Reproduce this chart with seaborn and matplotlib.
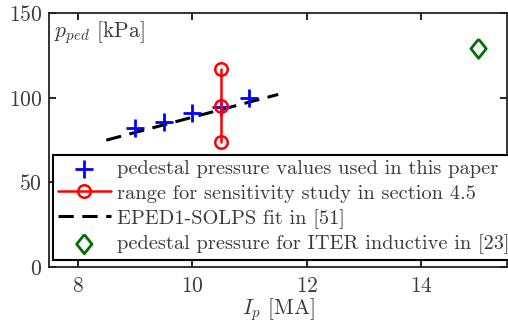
import matplotlib
matplotlib.use("Agg")
import matplotlib.pyplot as plt
import seaborn as sns

# data
ip_used = [9.0, 9.5, 10.0, 10.5, 11.0]
p_used = [82, 86, 91, 94.5, 100]
ip_range = [10.5, 10.5, 10.5]
p_range = [74, 95, 117]
ip_fit = [8.5, 11.5]
p_fit = [75, 102]
ip_iter = [15.0]
p_iter = [129]

sns.set_theme(style="ticks")
plt.rcParams["font.family"] = ["serif"]
plt.rcParams["font.serif"] = ["cmr10", "DejaVu Serif"]
plt.rcParams["mathtext.fontset"] = "cm"
plt.rcParams["axes.formatter.use_mathtext"] = True
plt.rcParams["axes.unicode_minus"] = False

fig = plt.figure(figsize=(5.08, 3.29), dpi=100)
ax = fig.add_axes([0.0965, 0.188, 0.902, 0.772])

grey = "#3a3a3a"
diamond = [(0, 1), (0.8, 0), (0, -1), (-0.8, 0), (0, 1)]

sns.scatterplot(x=ip_used, y=p_used, ax=ax, marker="+", s=180, color="#0000ff",
                linewidth=2, label="pedestal pressure values used in this paper", zorder=3)
sns.lineplot(x=ip_range, y=p_range, ax=ax, color="#ff0000", marker="o", markersize=9,
             markerfacecolor="none", markeredgecolor="#ff0000", markeredgewidth=1.8,
             linewidth=1.8, estimator=None, sort=False,
             label="range for sensitivity study in section 4.5", zorder=4)
sns.lineplot(x=ip_fit, y=p_fit, ax=ax, color="black", linewidth=2.2, dashes=False,
             estimator=None, label="EPED1-SOLPS fit in [51]", zorder=2)
ax.lines[-1].set_dashes([5, 2.8])
sns.scatterplot(x=ip_iter, y=p_iter, ax=ax, marker=diamond, s=190, facecolor="none",
                edgecolor="#007000", linewidth=2,
                label="pedestal pressure for ITER inductive in [23]", zorder=3)

ax.set_xlim(7.5, 15.5)
ax.set_ylim(0, 150)
ax.set_xticks([8, 10, 12, 14])
ax.set_yticks([0, 50, 100, 150])
ax.tick_params(direction="in", top=True, right=True, length=5, width=1.2,
               labelsize=15.5, labelcolor=grey, colors="black")
ax.tick_params(axis="x", pad=7)
ax.tick_params(axis="y", pad=5)
for sp in ax.spines.values():
    sp.set_linewidth(1.3)
    sp.set_color("#222222")
ax.set_xlabel(r"$I_p$ [MA]", fontsize=15.5, color=grey, labelpad=0)
ax.set_ylabel("")
ax.text(0.01, 0.925, r"$p_{ped}$ [kPa]", transform=ax.transAxes, fontsize=15.5,
        color=grey, ha="left", va="center")

leg = ax.legend(loc="lower left", bbox_to_anchor=(0.008, 0.03), fontsize=14.7,
                frameon=True, fancybox=False, framealpha=1, edgecolor="black",
                borderpad=0.25, labelspacing=0.3, handlelength=2.6, handletextpad=0.3,
                borderaxespad=0)
leg.get_frame().set_linewidth(1.5)
for t in leg.get_texts():
    t.set_color(grey)

fig.savefig("out.png", dpi=100)
